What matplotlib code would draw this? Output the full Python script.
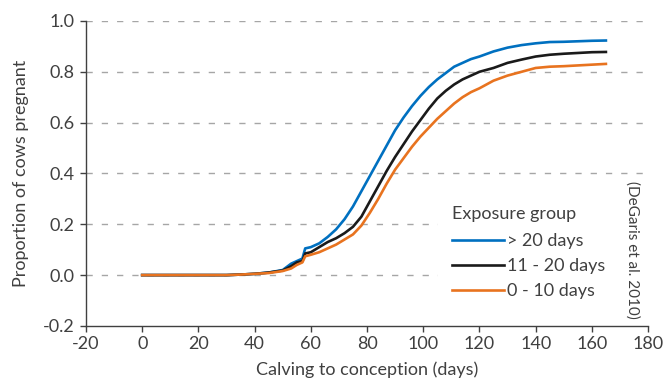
import matplotlib
matplotlib.use("Agg")
import matplotlib.pyplot as plt
from matplotlib.patches import Rectangle

plt.rcParams['font.family'] = ['Lato', 'DejaVu Sans']

days = [0, 30, 35, 40, 45, 50, 53, 55, 57, 58, 60, 63, 66, 69, 72, 75, 78, 81, 84, 87,
        90, 93, 96, 99, 102, 105, 108, 111, 114, 117, 120, 125, 130, 135, 140, 145,
        150, 155, 160, 165]

gt20 = [0, 0, 0.002, 0.005, 0.01, 0.02, 0.045, 0.055, 0.065, 0.105, 0.11, 0.125, 0.15,
        0.18, 0.22, 0.27, 0.33, 0.39, 0.45, 0.51, 0.57, 0.62, 0.665, 0.705, 0.74, 0.77,
        0.795, 0.82, 0.835, 0.85, 0.86, 0.88, 0.895, 0.905, 0.912, 0.917, 0.918, 0.92,
        0.922, 0.923]

d11_20 = [0, 0, 0.002, 0.005, 0.01, 0.018, 0.035, 0.05, 0.055, 0.085, 0.09, 0.11, 0.13,
          0.145, 0.165, 0.19, 0.23, 0.29, 0.35, 0.41, 0.465, 0.515, 0.565, 0.61, 0.655, 0.695,
          0.725, 0.75, 0.77, 0.785, 0.80, 0.815, 0.835, 0.848, 0.86, 0.867, 0.871, 0.874,
          0.877, 0.878]

d0_10 = [0, 0, 0.002, 0.005, 0.008, 0.016, 0.026, 0.04, 0.05, 0.074, 0.08, 0.09, 0.105,
         0.12, 0.14, 0.16, 0.195, 0.245, 0.30, 0.36, 0.415, 0.46, 0.505, 0.545, 0.58, 0.615,
         0.645, 0.675, 0.70, 0.72, 0.735, 0.765, 0.785, 0.80, 0.815, 0.82, 0.822, 0.825,
         0.828, 0.831]

labels = ['> 20 days', '11 - 20 days', '0 - 10 days']
colors = ['#0070C0', '#1a1a1a', '#E8731F']

xticks = list(range(-20, 181, 20))
yticks = [-0.2, 0.0, 0.2, 0.4, 0.6, 0.8, 1.0]

txt = '#404040'
fs = 13

fig = plt.figure(figsize=(6.64, 3.88), dpi=100)
ax = fig.add_axes([0.1295, 0.16, 0.8465, 0.786])

for yv in yticks[1:]:
    ax.axhline(yv, color='#a6a6a6', lw=1.0, dashes=(4.5, 6.5), zorder=1)

# white panel behind the legend that hides the gridlines there
ax.add_patch(Rectangle((0.626, 0.07), 0.374, 0.36, transform=ax.transAxes,
                       facecolor='white', edgecolor='none', zorder=2))

for series, lab, c in zip([gt20, d11_20, d0_10], labels, colors):
    ax.plot(days, series, color=c, lw=1.9, label=lab, zorder=3)

ax.set_xlim(-20, 180)
ax.set_ylim(-0.2, 1.0)
ax.set_xticks(xticks)
ax.set_yticks(yticks)
ax.set_xticklabels([str(v) for v in xticks])
ax.set_yticklabels([f'{v:.1f}' for v in yticks])
ax.tick_params(axis='both', colors=txt, labelsize=fs, length=4, width=1, direction='out')
ax.tick_params(axis='x', pad=3)
ax.tick_params(axis='y', pad=4)
for s in ['top', 'right']:
    ax.spines[s].set_visible(False)
for s in ['left', 'bottom']:
    ax.spines[s].set_color(txt)
    ax.spines[s].set_linewidth(1.0)

ax.set_xlabel('Calving to conception (days)', fontsize=fs, color=txt, labelpad=7)
ax.set_ylabel('Proportion of cows pregnant', fontsize=fs, color=txt, labelpad=10)

leg = ax.legend(title='Exposure group', loc='lower right', bbox_to_anchor=(0.953, 0.035),
                frameon=False, fontsize=fs, title_fontsize=fs, handlelength=2.85,
                handletextpad=0.2, labelspacing=0.5, labelcolor=txt)
leg._legend_box.align = 'left'
leg._legend_box.sep = 8
leg.get_title().set_color(txt)
leg.set_zorder(5)

ax.text(0.972, 0.25, '(DeGaris et al. 2010)', transform=ax.transAxes, rotation=270,
        fontsize=11, color=txt, ha='center', va='center', zorder=5)

fig.savefig('out.png', dpi=100)
